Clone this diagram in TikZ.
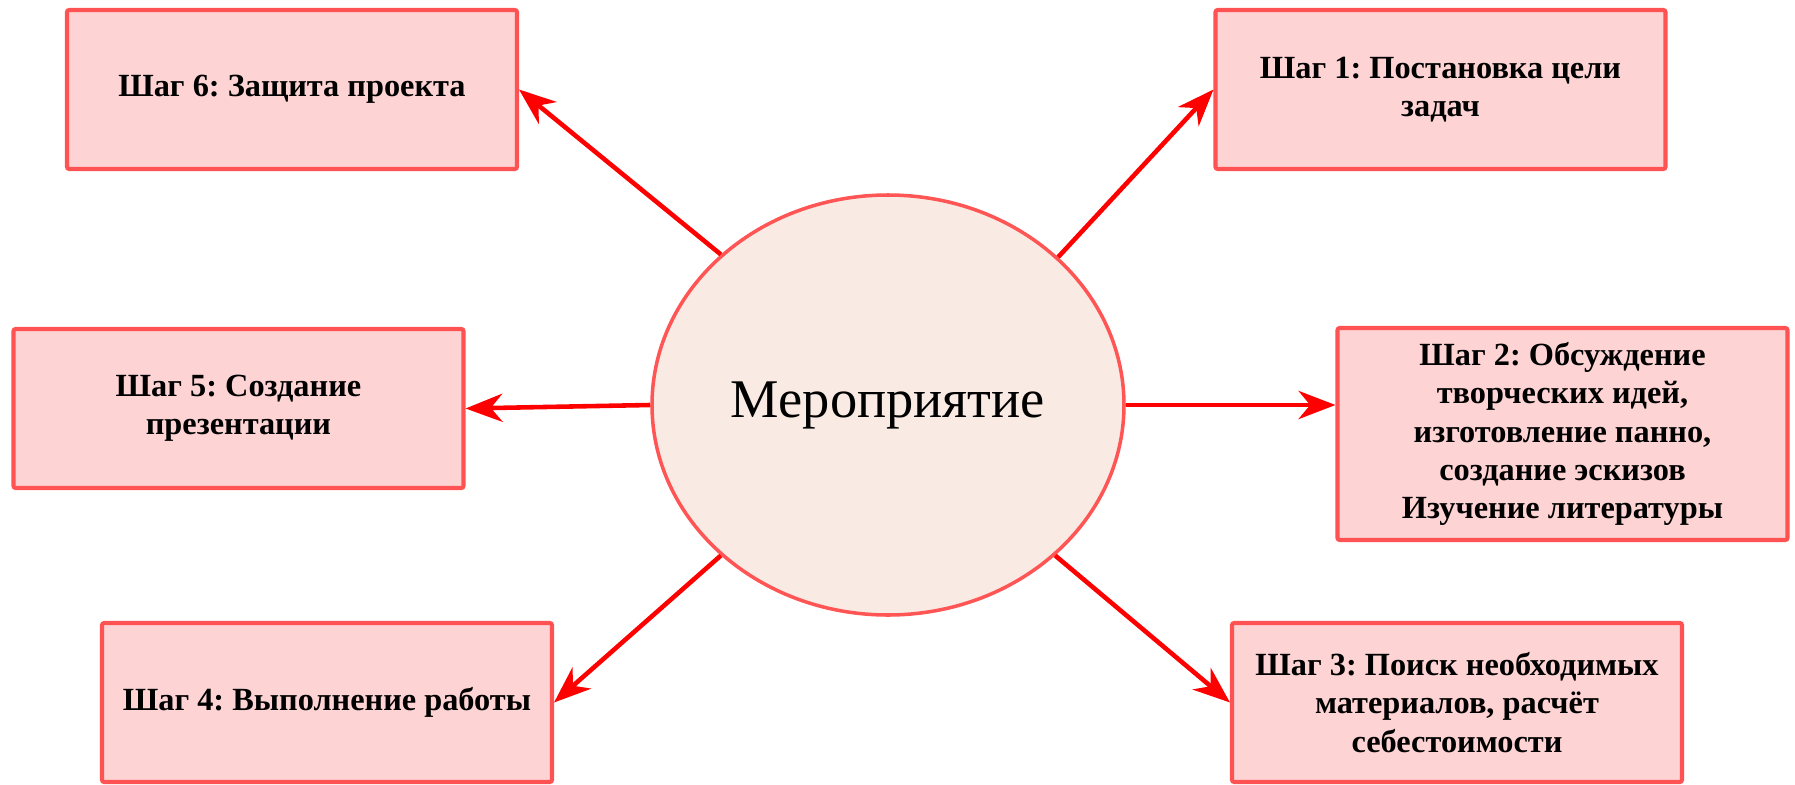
\documentclass[tikz,border=0pt]{standalone}
\usepackage{fontspec}
\setmainfont{Liberation Serif}
\usetikzlibrary{arrows.meta,shapes.geometric}
\definecolor{boxfill}{HTML}{FDD3D4}
\definecolor{boxline}{HTML}{FF5252}
\definecolor{ovalfill}{HTML}{F9EAE3}
\definecolor{ovalline}{HTML}{FF5555}
\definecolor{arrowred}{HTML}{FF0000}
\frenchspacing
\tikzset{
	stepbox/.style={draw=boxline, fill=boxfill, line width=1.15pt, rounded corners=0.6pt, minimum width=4.5cm, minimum height=1.59cm, align=center, inner sep=2pt, font=\fontsize{9.2}{10.9}\selectfont\bfseries},
	hub/.style={ellipse, draw=ovalline, fill=ovalfill, line width=1pt, minimum width=4.72cm, minimum height=4.2cm, inner sep=0pt, font=\fontsize{15.5}{18}\selectfont},
	link/.style={draw=arrowred, line width=1.3pt, -{Stealth[length=10.5pt,width=8pt,inset=3.3pt]}}
}

\begin{document}
\begin{tikzpicture}
			%%%%% START %%%%%
			
			\useasboundingbox (0, 0) rectangle (17.95, -7.85);
			
			\node[hub] (ev) at (8.88, -4.05) {Мероприятие};
			
			\node[stepbox] (s1) at (14.405, -0.895) {Шаг 1: Постановка цели\\задач};
			\node[stepbox, minimum height=2.12cm] (s2) at (15.625, -4.34) {Шаг 2: Обсуждение\\творческих идей,\\изготовление панно,\\создание эскизов\\Изучение литературы};
			\node[stepbox] (s3) at (14.57, -7.025) {Шаг 3: Поиск необходимых\\материалов, расчёт\\себестоимости};
			
			\node[stepbox] (s4) at (3.27, -7.025) {Шаг 4: Выполнение работы};
			\node[stepbox] (s5) at (2.385, -4.085) {Шаг 5: Создание\\презентации};
			\node[stepbox] (s6) at (2.92, -0.895) {Шаг 6: Защита проекта};
			
			\draw[link] (ev.41) -- (s1.west);
			\draw[link] (ev.east) -- (ev.east -| s2.west);
			\draw[link] (ev.318) -- (s3.west);
			\draw[link] (ev.222) -- (s4.east);
			\draw[link] (ev.west) -- (s5.east);
			\draw[link] (ev.138) -- (s6.east);
			
			%%%%% END %%%%%
\end{tikzpicture}
\end{document}
